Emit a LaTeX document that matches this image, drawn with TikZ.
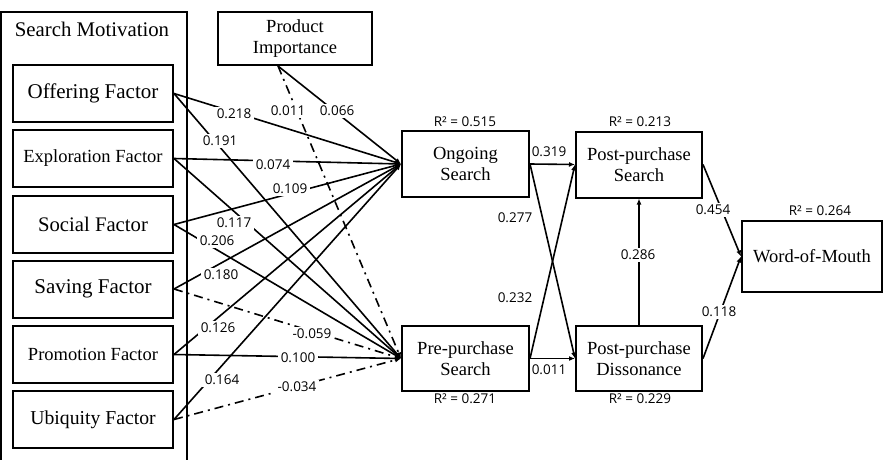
\documentclass[tikz,border=0pt]{standalone}
\usepackage{fontspec}
\setmainfont{Liberation Serif}
\newfontfamily\labfont{Open Sans}
\usetikzlibrary{arrows.meta}
\begin{document}
\begin{tikzpicture}[x=1pt,y=-1pt,
  box/.style={draw,line width=2pt,inner sep=0pt,align=center,font=\fontsize{18.5}{21}\selectfont},
  fbox/.style={box,minimum width=160pt,minimum height=57pt},
  cbox/.style={box,minimum width=127pt,minimum height=66pt},
  conn/.style={line width=1.6pt,-{Latex[length=6pt,width=5pt]}},
  dd/.style={conn,dash pattern=on 9pt off 5pt on 2pt off 5pt},
  coef/.style={fill=white,inner sep=2.5pt,font=\labfont\fontsize{13.5}{15}\selectfont},
  ncoef/.style={inner sep=0pt,font=\labfont\fontsize{13.5}{15}\selectfont},
  rsq/.style={inner sep=0pt,font=\labfont\fontsize{13.5}{15}\selectfont}]
\useasboundingbox (0,0) rectangle (887,460);
\fill[white] (0,0) rectangle (887,460);
% Search Motivation frame
\draw[line width=2pt] (1,470) -- (1,12) -- (187,12) -- (187,470);
\node[font=\fontsize{20.8}{24}\selectfont] (smt) at (92,29) {Search Motivation};
% factor boxes
\node[fbox,font=\fontsize{21}{24}\selectfont] (off) at (93,93.5) {Offering Factor};
\node[fbox] (exp) at (93,158.5) {Exploration Factor};
\node[fbox,font=\fontsize{20.7}{24}\selectfont] (soc) at (93,224.5) {Social Factor};
\node[fbox,font=\fontsize{21}{24}\selectfont] (sav) at (93,289) {Saving Factor};
\node[fbox] (pro) at (93,354.5) {Promotion Factor};
\node[fbox,font=\fontsize{19.7}{24}\selectfont] (ubi) at (93,419.5) {Ubiquity Factor};
% other boxes
\node[box,minimum width=154pt,minimum height=53pt] (pi) at (295,38.5) {Product\\Importance};
\node[cbox] (ong) at (465.5,164) {Ongoing\\Search};
\node[cbox,minimum height=65pt] (pre) at (465.5,358.5) {Pre-purchase\\Search};
\node[cbox,minimum width=126pt] (ps) at (639,164.5) {Post-purchase\\Search};
\node[cbox,minimum width=126pt,minimum height=65pt] (pd) at (639,358.5) {Post-purchase\\Dissonance};
\node[box,minimum width=140pt,minimum height=71pt] (wom) at (812,256.5) {Word-of-Mouth};
\coordinate (pis) at ([xshift=-17pt]pi.south);
% connectors to Ongoing Search
\draw[conn] (off.east) -- (ong.west);
\draw[conn] (exp.east) -- (ong.west);
\draw[conn] (soc.east) -- (ong.west);
\draw[conn] (sav.east) -- (ong.west);
\draw[conn] (pro.east) -- (ong.west);
\draw[conn] (ubi.east) -- (ong.west);
\draw[conn] (pis) -- (ong.west);
% connectors to Pre-purchase Search
\draw[conn] (off.east) -- (pre.west);
\draw[conn] (exp.east) -- (pre.west);
\draw[conn] (soc.east) -- (pre.west);
\draw[dd] (sav.east) -- (pre.west);
\draw[conn] (pro.east) -- (pre.west);
\draw[dd] (ubi.east) -- (pre.west);
\draw[dd] (pis) -- (pre.west);
% middle
\draw[conn] (ong.east) -- (ps.west);
\draw[conn] (ong.east) -- (pd.west);
\draw[conn] (pre.east) -- (ps.west);
\draw[conn] (pre.east) -- (pd.west);
\draw[conn] (pd.north) -- (ps.south);
\draw[conn] (ps.east) -- (wom.west);
\draw[conn] (pd.east) -- (wom.west);
% coefficients
\node[coef] (c1) at (234,114) {0.218};
\node[coef] (c2) at (220,141) {0.191};
\node[coef] (c3) at (288,111) {0.011};
\node[coef] (c4) at (337,111) {0.066};
\node[coef] (c5) at (273,165) {0.074};
\node[coef] (c6) at (290,189) {0.109};
\node[coef] (c7) at (234,223) {0.117};
\node[coef] (c8) at (217,241) {0.206};
\node[coef] (c9) at (221,275) {0.180};
\node[coef] (c10) at (218,328) {0.126};
\node[coef] (c11) at (312,334) {-0.059};
\node[coef] (c12) at (298,358) {0.100};
\node[coef] (c13) at (222,380) {0.164};
\node[coef] (c14) at (297,387) {-0.034};
\node[ncoef] (c15) at (549,152) {0.319};
\node[ncoef] (c16) at (515,218) {0.277};
\node[ncoef] (c17) at (515,298) {0.232};
\node[ncoef] (c18) at (549,370) {0.011};
\node[coef] (c19) at (638,255) {0.286};
\node[coef] (c20) at (713,210) {0.454};
\node[coef] (c21) at (719,312) {0.118};
% R squared
\node[rsq] (r1) at (465,122) {R² = 0.515};
\node[rsq] (r2) at (640,122) {R² = 0.213};
\node[rsq] (r3) at (465,399) {R² = 0.271};
\node[rsq] (r4) at (640,399) {R² = 0.229};
\node[rsq] (r5) at (820,211) {R² = 0.264};
\end{tikzpicture}
\end{document}
